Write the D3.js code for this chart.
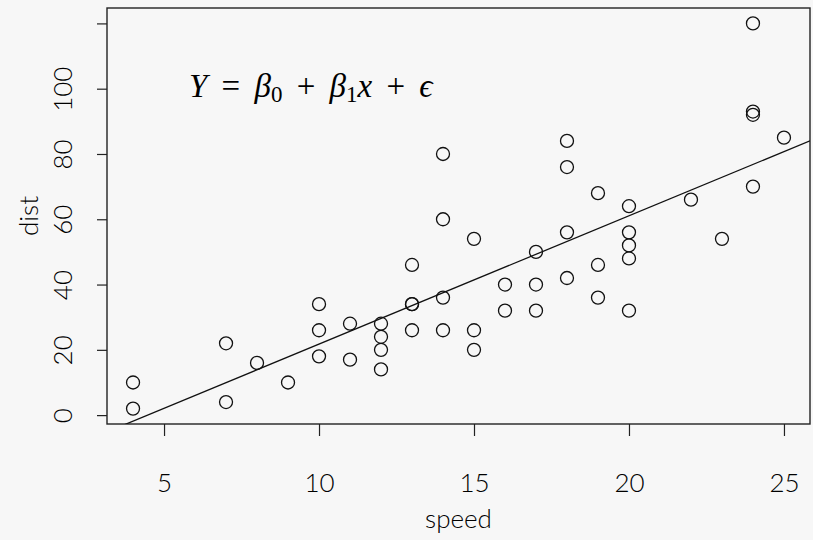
<!DOCTYPE html>
<html>
<head>
<meta charset="utf-8">
<script src="https://cdn.jsdelivr.net/npm/d3@7"></script>
<style>
  body { margin: 0; background: #f7f7f7; }
  svg { display: block; }
  .tick-label, .axis-title { font-family: "Lato", "Noto Sans", sans-serif; font-weight: 300; fill: #000; }
</style>
</head>
<body>
<div id="chart"></div>
<script>
// cars dataset
const speed = [4, 4, 7, 7, 8, 9, 10, 10, 10, 11, 11, 12, 12, 12, 12, 13, 13, 13, 13, 14,
               14, 14, 14, 15, 15, 15, 16, 16, 17, 17, 17, 18, 18, 18, 18, 19, 19, 19, 20, 20,
               20, 20, 20, 22, 23, 24, 24, 24, 24, 25];
const dist = [2, 10, 4, 22, 16, 10, 18, 26, 34, 17, 28, 14, 20, 24, 28, 26, 34, 34, 46, 26,
              36, 60, 80, 20, 26, 54, 32, 40, 32, 40, 50, 42, 56, 76, 84, 36, 46, 68, 32, 48,
              52, 56, 64, 66, 54, 70, 92, 93, 120, 85];
const xTicks = [5, 10, 15, 20, 25];
const yTicks = [0, 20, 40, 60, 80, 100, 120];

const width = 813;
const height = 540;
const margin = { left: 107, right: 3, top: 8, bottom: 116 };

const svg = d3.select('#chart')
    .append('svg')
    .attr('width', width)
    .attr('height', height);

// R style 4% axis extension
const xExt = d3.extent(speed);
const yExt = d3.extent(dist);
const xPad = (xExt[1] - xExt[0]) * 0.04;
const yPad = (yExt[1] - yExt[0]) * 0.04;

const x = d3.scaleLinear()
    .domain([xExt[0] - xPad, xExt[1] + xPad])
    .range([margin.left, width - margin.right]);
const y = d3.scaleLinear()
    .domain([yExt[0] - yPad, yExt[1] + yPad])
    .range([height - margin.bottom, margin.top]);

// least squares fit
const mx = d3.mean(speed), my = d3.mean(dist);
const slope = d3.sum(speed, (s, i) => (s - mx) * (dist[i] - my)) / d3.sum(speed, s => (s - mx) ** 2);
const intercept = my - slope * mx;

svg.append('clipPath').attr('id', 'clip')
    .append('rect')
    .attr('x', margin.left).attr('y', margin.top)
    .attr('width', width - margin.left - margin.right)
    .attr('height', height - margin.top - margin.bottom);

// axes
const xAxis = svg.append('g')
    .attr('transform', `translate(0,${height - margin.bottom})`)
    .call(d3.axisBottom(x).tickValues(xTicks).tickSize(12).tickSizeOuter(0).tickPadding(38));
xAxis.select('.domain').remove();
xAxis.selectAll('line').attr('stroke', '#222').attr('stroke-width', 1.2);
xAxis.selectAll('text').attr('class', 'tick-label').attr('font-size', 26);

const yAxis = svg.append('g')
    .attr('transform', `translate(${margin.left},0)`)
    .call(d3.axisLeft(y).tickValues(yTicks).tickSize(10).tickSizeOuter(0).tickFormat(d => d === 120 ? '' : d));
yAxis.select('.domain').remove();
yAxis.selectAll('line').attr('stroke', '#222').attr('stroke-width', 1.2);
yAxis.selectAll('text')
    .attr('class', 'tick-label')
    .attr('font-size', 26)
    .attr('text-anchor', 'middle')
    .attr('dy', null)
    .attr('x', null)
    .attr('transform', 'translate(-45,0) rotate(-90)')
    .attr('dominant-baseline', 'central');

// plot box
svg.append('rect')
    .attr('x', margin.left).attr('y', margin.top)
    .attr('width', width - margin.left - margin.right)
    .attr('height', height - margin.top - margin.bottom)
    .attr('fill', 'none')
    .attr('stroke', '#222')
    .attr('stroke-width', 1.4);

// regression line
const xd = x.domain();
svg.append('line')
    .attr('clip-path', 'url(#clip)')
    .attr('x1', x(xd[0])).attr('y1', y(intercept + slope * xd[0]))
    .attr('x2', x(xd[1])).attr('y2', y(intercept + slope * xd[1]))
    .attr('stroke', '#111')
    .attr('stroke-width', 1.3);

// points
svg.selectAll('circle.pt')
    .data(speed)
    .enter()
    .append('circle')
    .attr('class', 'pt')
    .attr('cx', d => x(d))
    .attr('cy', (d, i) => y(dist[i]))
    .attr('r', 6.5)
    .attr('fill', 'none')
    .attr('stroke', '#111')
    .attr('stroke-width', 1.3);

// axis titles
svg.append('text')
    .attr('class', 'axis-title')
    .attr('x', (margin.left + width - margin.right) / 2)
    .attr('y', 528)
    .attr('text-anchor', 'middle')
    .attr('font-size', 26)
    .text('speed');

svg.append('text')
    .attr('class', 'axis-title')
    .attr('transform', `translate(38,${(margin.top + height - margin.bottom) / 2}) rotate(-90)`)
    .attr('text-anchor', 'middle')
    .attr('font-size', 26)
    .text('dist');

// model equation
const eq = svg.append('text')
    .attr('x', 189)
    .attr('y', 97)
    .attr('font-family', '"Liberation Serif", "DejaVu Serif", serif')
    .attr('font-size', 33)
    .attr('word-spacing', 6)
    .attr('fill', '#000');
eq.append('tspan').attr('font-style', 'italic').text('Y');
eq.append('tspan').text(' = ');
eq.append('tspan').attr('font-style', 'italic').text('β');
eq.append('tspan').attr('font-size', 23).attr('dy', 5).text('0');
eq.append('tspan').attr('dy', -5).text(' + ');
eq.append('tspan').attr('font-style', 'italic').text('β');
eq.append('tspan').attr('font-size', 23).attr('dy', 5).text('1');
eq.append('tspan').attr('dy', -5).attr('font-style', 'italic').text('x');
eq.append('tspan').text(' + ');
eq.append('tspan').attr('font-style', 'italic').text('ϵ');
</script>
</body>
</html>
